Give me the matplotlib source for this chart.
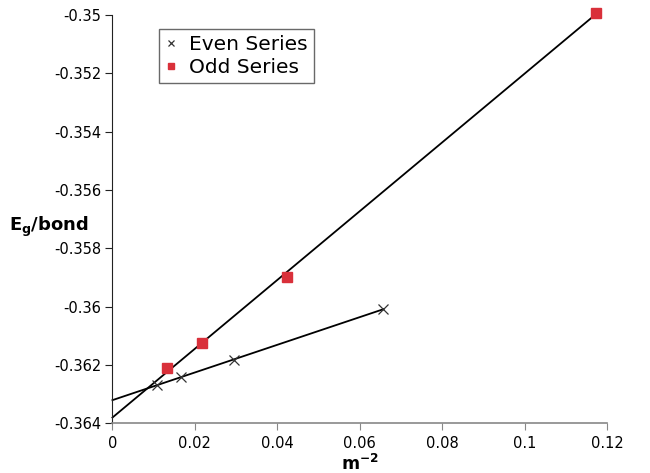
import numpy as np
import matplotlib
matplotlib.use("Agg")
import matplotlib.pyplot as plt
from matplotlib.ticker import FuncFormatter

# data
even_x = [0.0657, 0.0295, 0.0166, 0.0108]
even_y = [-0.36008, -0.36183, -0.36240, -0.36269]
odd_x = [0.1172, 0.0423, 0.0217, 0.0133]
odd_y = [-0.34993, -0.35897, -0.36126, -0.36210]

x_ticks = [0, 0.02, 0.04, 0.06, 0.08, 0.1, 0.12]
y_ticks = [-0.364, -0.362, -0.36, -0.358, -0.356, -0.354, -0.352, -0.35]

plt.rcParams['mathtext.fontset'] = 'dejavusans'

fig = plt.figure(figsize=(6.5, 4.73), dpi=100)
ax = fig.add_axes([0.173, 0.105, 0.761, 0.863])

# linear trendlines extended back to x = 0
for xs, ys in [(even_x, even_y), (odd_x, odd_y)]:
    k, b = np.polyfit(xs, ys, 1)
    xx = np.array([0, max(xs)])
    ax.plot(xx, k * xx + b, color='black', lw=1.3, zorder=2, clip_on=False)

ax.plot(even_x, even_y, ls='none', marker='x', ms=7, mew=0.9,
        color='#333333', label='Even Series', zorder=3, clip_on=False)
ax.plot(odd_x, odd_y, ls='none', marker='s', ms=7, color='#d9303a',
        mec='#d9303a', label='Odd Series', zorder=3, clip_on=False)

ax.set_xlim(0, 0.12)
ax.set_ylim(-0.364, -0.35)
ax.set_xticks(x_ticks)
ax.set_yticks(y_ticks)
fmt = FuncFormatter(lambda v, p: '%g' % round(v, 4))
ax.xaxis.set_major_formatter(fmt)
ax.yaxis.set_major_formatter(fmt)
ax.tick_params(labelsize=10.5, length=5, pad=3)
ax.tick_params(axis='x', color='#888888', pad=4)
ax.tick_params(axis='y', color='#222222')

for s in ['top', 'right']:
    ax.spines[s].set_visible(False)
ax.spines['left'].set_color('#222222')
ax.spines['bottom'].set_color('#888888')
ax.spines['bottom'].set_linewidth(1.2)

ax.set_xlabel(r'$\mathbf{m^{-2}}$', fontsize=12.5, labelpad=2)
ax.set_ylabel(r'$\mathbf{E_g/bond}$', fontsize=13, rotation=0,
              ha='center', va='center')
ax.yaxis.set_label_coords(-0.128, 0.481)

leg = ax.legend(loc='upper left', bbox_to_anchor=(0.094, 0.966), fontsize=14.5,
                frameon=True, fancybox=False, handlelength=0.6, markerscale=0.7,
                handletextpad=0.6, borderpad=0.3, labelspacing=0.2,
                borderaxespad=0)
leg.get_frame().set_edgecolor('#444444')
leg.get_frame().set_linewidth(1.0)

fig.savefig('out.png', dpi=100)
